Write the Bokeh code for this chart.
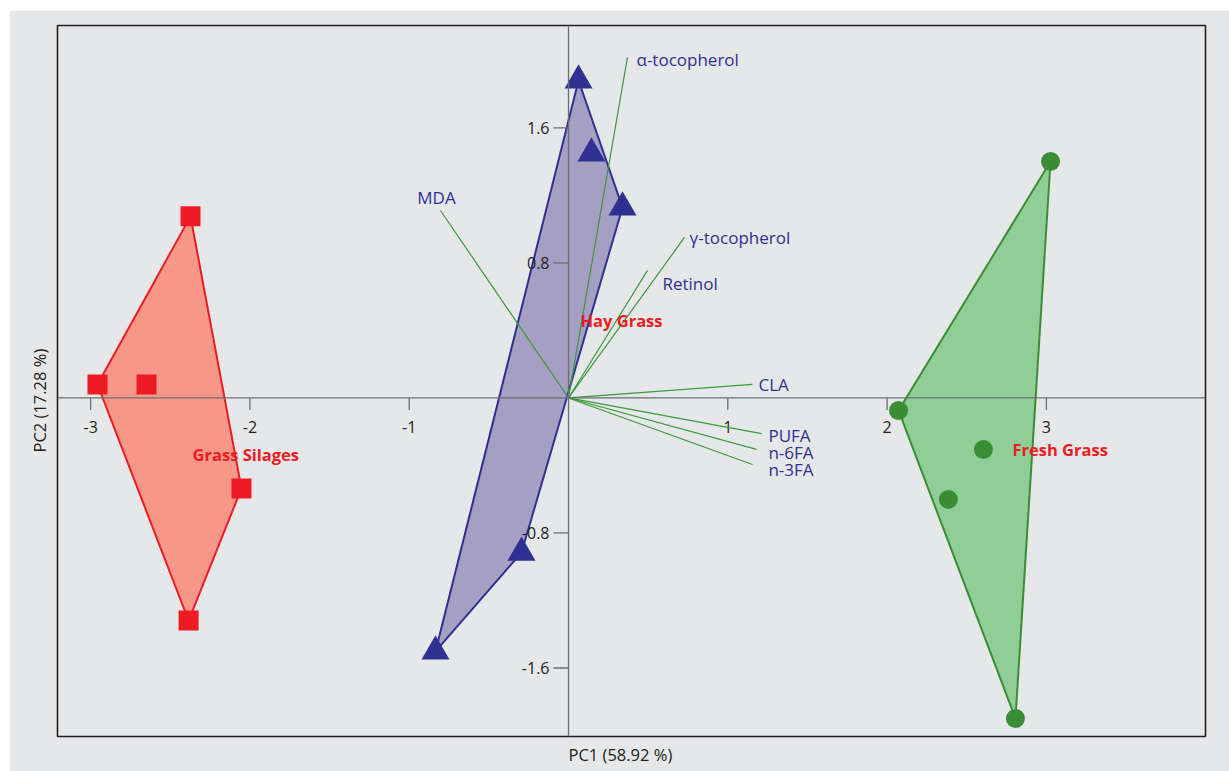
from bokeh.plotting import figure
from bokeh.models import Range1d, Span, Title
from bokeh.core.properties import value
from bokeh.embed import file_html
from bokeh.resources import INLINE

# ---------------- data ----------------
silage_pc1 = [-2.373, -2.957, -2.649, -2.053, -2.385]
silage_pc2 = [1.076, 0.080, 0.080, -0.536, -1.319]
hay_pc1 = [0.063, 0.144, 0.339, -0.295, -0.835]
hay_pc2 = [1.881, 1.449, 1.129, -0.916, -1.502]
fresh_pc1 = [3.026, 2.072, 2.605, 2.385, 2.806]
fresh_pc2 = [1.401, -0.074, -0.305, -0.601, -1.899]

loading_names = ["MDA", "α-tocopherol", "γ-tocopherol", "Retinol", "CLA", "PUFA", "n-6FA", "n-3FA"]
loading_pc1 = [-0.804, 0.370, 0.728, 0.496, 1.155, 1.212, 1.180, 1.155]
loading_pc2 = [1.111, 2.018, 0.951, 0.756, 0.080, -0.211, -0.305, -0.394]

x_ticks = [-3, -2, -1, 1, 2, 3]
x_tick_labels = ["-3", "-2", "-1", "1", "2", "3"]
y_ticks = [-1.6, -0.8, 0.8, 1.6]
y_tick_labels = ["-1.6", "-0.8", "0.8", "1.6"]

group_names = ["Grass Silages", "Hay Grass", "Fresh Grass"]
x_title = "PC1 (58.92 %)"
y_title = "PC2 (17.28 %)"

# ---------------- layout / style ----------------
FONT = "Open Sans"
BG = "#e6e7e8"
BLUE = "#2e3192"
RED = "#ed1c24"
GREEN_D = "#3a8d35"
LOAD_G = "#3c9a3c"
AXIS_C = "#6d6e71"
TXT = "#231f20"

XR = (-3.208, 3.999)
YR = (-2.006, 2.207)
FW, FH = 1148, 711
px_x = (XR[1] - XR[0]) / FW
px_y = (YR[1] - YR[0]) / FH

p = figure(width=1220, height=761, output_backend="svg", toolbar_location=None,
           x_range=Range1d(*XR), y_range=Range1d(*YR),
           x_axis_location=None, y_axis_location=None,
           min_border_left=48, min_border_right=24, min_border_top=15, min_border_bottom=35)
p.margin = (10, 0, 0, 9)
p.background_fill_color = BG
p.border_fill_color = BG
p.outline_line_color = TXT
p.outline_line_width = 1.6
p.xgrid.visible = False
p.ygrid.visible = False


def hull(xs, ys):
    pts = sorted(set(zip(xs, ys)))

    def cross(o, a, b):
        return (a[0] - o[0]) * (b[1] - o[1]) - (a[1] - o[1]) * (b[0] - o[0])
    lower, upper = [], []
    for pt in pts:
        while len(lower) >= 2 and cross(lower[-2], lower[-1], pt) <= 0:
            lower.pop()
        lower.append(pt)
    for pt in reversed(pts):
        while len(upper) >= 2 and cross(upper[-2], upper[-1], pt) <= 0:
            upper.pop()
        upper.append(pt)
    h = lower[:-1] + upper[:-1]
    return [q[0] for q in h], [q[1] for q in h]


# polygons
for xs, ys, fill, line in [(silage_pc1, silage_pc2, "#f69788", RED),
                           (hay_pc1, hay_pc2, "#a59fc4", BLUE),
                           (fresh_pc1, fresh_pc2, "#8fce96", GREEN_D)]:
    hx, hy = hull(xs, ys)
    p.patch(hx, hy, fill_color=fill, line_color=line, line_width=2)

# axes through origin
p.add_layout(Span(location=0, dimension="width", line_color=AXIS_C, line_width=1.3))
p.add_layout(Span(location=0, dimension="height", line_color=AXIS_C, line_width=1.3))
p.segment(x0=x_ticks, y0=[0] * len(x_ticks), x1=x_ticks, y1=[-12 * px_y] * len(x_ticks),
          line_color=AXIS_C, line_width=1.3)
p.segment(x0=[0] * len(y_ticks), y0=y_ticks, x1=[-15 * px_x] * len(y_ticks), y1=y_ticks,
          line_color=AXIS_C, line_width=1.3)
p.text(x=x_ticks, y=[-29 * px_y] * len(x_ticks), text=x_tick_labels,
       text_font=value(FONT), text_font_size="16px", text_color=TXT,
       text_align="center", text_baseline="middle")
p.text(x=[-19 * px_x] * len(y_ticks), y=y_ticks, text=y_tick_labels,
       text_font=value(FONT), text_font_size="16px", text_color=TXT,
       text_align="right", text_baseline="middle")

# loadings
p.segment(x0=[0] * len(loading_pc1), y0=[0] * len(loading_pc2), x1=loading_pc1, y1=loading_pc2,
          line_color=LOAD_G, line_width=1.2)
lab_x = [-0.829, 0.427, 0.760, 0.590, 1.193, 1.255, 1.255, 1.255]
lab_y = [1.188, 2.006, 0.951, 0.679, 0.080, -0.222, -0.323, -0.424]
lab_align = ["center"] + ["left"] * 7
for t, x, y, a in zip(loading_names, lab_x, lab_y, lab_align):
    p.text(x=[x], y=[y], text=[t], text_font=value(FONT), text_font_size="17px",
           text_color=BLUE, text_align=a, text_baseline="middle")

# markers
p.scatter(silage_pc1, silage_pc2, marker="square", size=20, fill_color=RED, line_color=None)
p.scatter(hay_pc1, hay_pc2, marker="triangle", size=28, fill_color=BLUE, line_color=None)
p.scatter(fresh_pc1, fresh_pc2, marker="circle", size=19, fill_color=GREEN_D, line_color=None)

# group labels
g_x = [-2.360, 0.075, 2.787]
g_y = [-0.335, 0.459, -0.305]
for t, x, y in zip(group_names, g_x, g_y):
    p.text(x=[x], y=[y], text=[t], text_font=value(FONT), text_font_size="16.5px",
           text_font_style="bold", text_color=RED, text_align="left", text_baseline="middle")

# axis titles
p.add_layout(Title(text=x_title, align="left", offset=511, text_font=FONT,
                   text_font_size="16.5px", text_font_style="normal", text_color=TXT,
                   standoff=9), "below")
p.add_layout(Title(text=y_title, align="left", offset=284, text_font=FONT,
                   text_font_size="16.5px", text_font_style="normal", text_color=TXT,
                   standoff=14), "left")

open("out.html", "w").write(file_html(p, INLINE))
